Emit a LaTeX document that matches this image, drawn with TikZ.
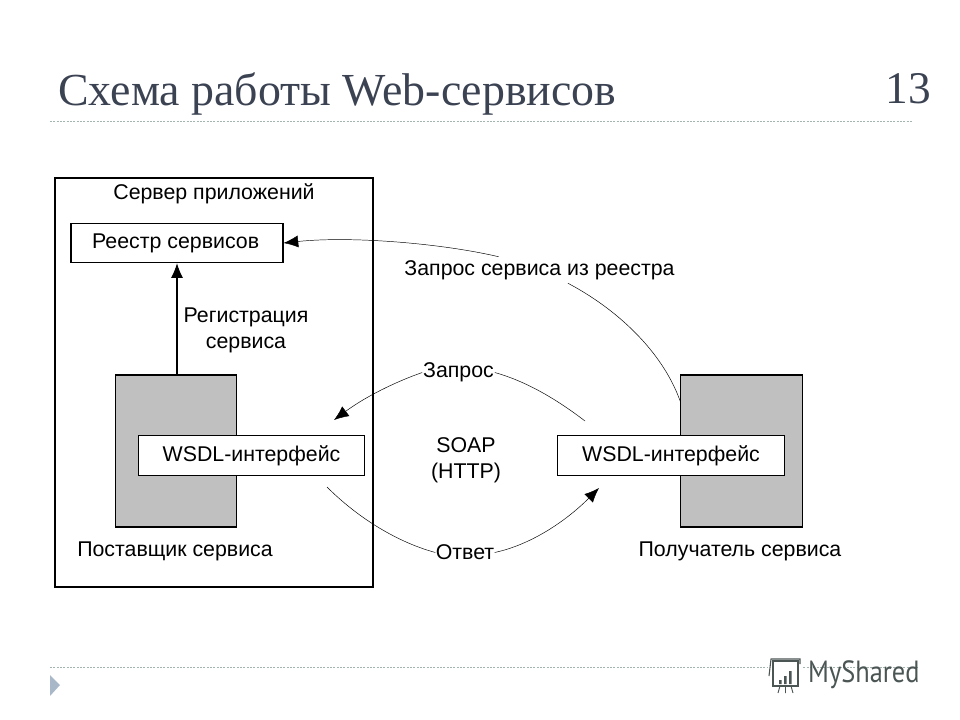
\documentclass[tikz,border=0pt]{standalone}
\usepackage{fontspec}
\setmainfont{Liberation Sans}
\newfontfamily\titlefont{Liberation Serif}
\newfontfamily\logofont{PT Sans}
\usetikzlibrary{arrows.meta}
\definecolor{titleink}{HTML}{3B4252}
\definecolor{rulegreen}{HTML}{A3B5AE}
\definecolor{boxgray}{HTML}{C0C0C0}
\definecolor{markblue}{HTML}{A9B8C8}
\definecolor{logoink}{HTML}{4A5554}
\tikzset{
  lbl/.style={font=\fontsize{16}{19.5}\selectfont,inner sep=0pt,align=center},
  lblbg/.style={lbl,fill=white},
  bluebox/.style={lbl,draw,fill=white,line width=0.8pt,minimum height=29.5pt},
  graybox/.style={draw,fill=boxgray,line width=0.8pt,minimum width=91pt,minimum height=114pt,inner sep=0pt},
  curve/.style={line width=0.35pt},
  tip/.style={-{Latex[length=11pt,width=9pt]}},
  pagerule/.style={rulegreen,dash pattern=on 1.5pt off 1pt,line width=0.5pt},
}
\begin{document}
\begin{tikzpicture}[x=0.75pt,y=-0.75pt]
\useasboundingbox (0,0) rectangle (960,720);
% title
\node[inner sep=0pt,anchor=base west,text=titleink,font=\titlefont\fontsize{34.4}{40}\selectfont] (title) at (58,106) {Схема работы Web-сервисов};
\node[inner sep=0pt,text=titleink,font=\titlefont\fontsize{34}{40}\selectfont] (pagenum) at (908,89) {13};
\draw[pagerule] (50,121)--(912,121);
\draw[pagerule] (50,667)--(918,667);
\fill[markblue] (50,675)--(60,685)--(50,696)--cycle;
% server
\node[draw,line width=0.8pt,minimum width=238.5pt,minimum height=306.75pt,inner sep=0pt] (server) at (214,382.5) {};
\node[lbl] (servername) at (214,193.5) {Сервер приложений};
\node[bluebox,minimum width=159pt] (registry) at (177,243) {\hspace*{-2pt}\raisebox{-1pt}{Реестр сервисов}};
\node[graybox] (provider) at (176,451) {};
\node[graybox] (consumer) at (741.5,451) {};
\node[bluebox,minimum width=170pt] (wsdlleft) at (251.5,455.5) {WSDL-интерфейс};
\node[bluebox,minimum width=170pt] (wsdlright) at (671,455.5) {WSDL-интерфейс};
\node[lbl] (regname) at (246,330) {Регистрация\\сервиса};
\node[lbl] (soap) at (466,460) {SOAP\\(HTTP)};
\node[lbl] (providername) at (175,551) {Поставщик сервиса};
\node[lbl] (consumername) at (740,551) {Получатель сервиса};
\node[lblbg,minimum width=203pt,minimum height=19.5pt] (regquery) at (539.5,270) {Запрос сервиса из реестра};
\node[lblbg,minimum width=54pt,minimum height=18pt] (query) at (458.5,372.5) {Запрос};
\node[lblbg,minimum width=44pt,minimum height=20pt] (answer) at (465,552.5) {Ответ};
\coordinate (qstart) at (585,421);
\coordinate (qend) at (334,420);
\coordinate (astart) at (327,487);
\coordinate (aend) at (599,488);
% arrows
\draw[tip,line width=0.8pt] (provider.north -| 177,375)--(registry.south -| 177,264);
\draw[curve] (consumer.141.5) .. controls (662,350) and (615,308) .. (regquery.-25);
\draw[curve,tip] (regquery.162) .. controls (440,243) and (350,236) .. (registry.east);
\draw[curve] (qstart) .. controls (555,398) and (525,381) .. (query.east);
\draw[curve,tip] (query.west) .. controls (395,382) and (365,397) .. (qend);
\draw[curve] (astart) .. controls (360,520) and (400,543) .. (answer.west);
\draw[curve,tip] (answer.east) .. controls (530,545) and (565,522) .. (aend);
% logo
\node[inner sep=0pt,anchor=west,text=logoink,font=\logofont\fontsize{23}{26}\selectfont,xscale=0.86] (logo) at (808,675) {MyShared};
\fill[white] (768,658) rectangle (802,693);
\draw[logoink,line width=0.8pt] (773,661) rectangle (798,686);
\draw[logoink,line width=0.8pt] (769,676)--(771,659)--(800,659)--(800,664);
\fill[logoink] (779,680) rectangle (781.5,684) (784,676) rectangle (786.5,684) (789,671) rectangle (791.5,684);
\draw[logoink,line width=0.7pt] (780,686)--(778,693) (785.5,686)--(785.5,693) (791,686)--(793,693);
\end{tikzpicture}
\end{document}
